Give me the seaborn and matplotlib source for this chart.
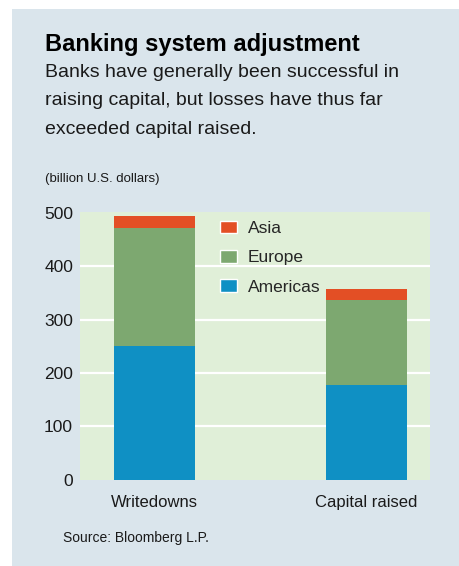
import numpy as np
import pandas as pd
import matplotlib
matplotlib.use("Agg")
import matplotlib.pyplot as plt
from matplotlib.patches import Rectangle, Patch
import seaborn as sns

# data (billion U.S. dollars)
categories = ["Writedowns", "Capital raised"]
americas = [250, 177]
europe = [222, 160]
asia = [22, 20]

sns.set_theme(style="white")
plt.rcParams['font.family'] = ['Liberation Sans', 'DejaVu Sans']

c_asia = "#E34F25"
c_europe = "#7DA870"
c_americas = "#0F90C4"
panel_bg = "#DAE5EC"
plot_bg = "#E0EFD8"

df = pd.DataFrame({"cat": categories, "Americas": americas, "Europe": europe, "Asia": asia})
df["am_eu"] = df["Americas"] + df["Europe"]
df["total"] = df["am_eu"] + df["Asia"]

W, H = 460, 566
fig = plt.figure(figsize=(4.6, 5.66), dpi=100)
fig.patch.set_facecolor("white")
fig.patches.append(Rectangle((12 / W, 0), 447 / W, 557 / H, transform=fig.transFigure,
                             facecolor=panel_bg, edgecolor="none", zorder=-10))

ax = fig.add_axes([80 / W, 1 - 479.5 / H, 350 / W, (479.5 - 212) / H])
ax.set_facecolor(plot_bg)

bw = 0.382
sns.barplot(data=df, x="cat", y="total", color=c_asia, width=bw, ax=ax, saturation=1,
            linewidth=0, zorder=3)
sns.barplot(data=df, x="cat", y="am_eu", color=c_europe, width=bw, ax=ax, saturation=1,
            linewidth=0, zorder=3)
sns.barplot(data=df, x="cat", y="Americas", color=c_americas, width=bw, ax=ax, saturation=1,
            linewidth=0, zorder=3)

ax.set_xlim(-0.351, 1.30)
ax.set_ylim(0, 502)
ax.set_yticks([0, 100, 200, 300, 400, 500])
ax.set_yticklabels(["0", "100", "200", "300", "400", "500"], fontsize=12.5, color="#1a1a1a")
ax.set_xticks([0, 1])
ax.set_xticklabels(categories, fontsize=12, color="#1a1a1a")
ax.tick_params(axis="y", length=0, pad=5)
ax.tick_params(axis="x", length=0, pad=11)
ax.set_xlabel("")
ax.set_ylabel("")
for s in ax.spines.values():
    s.set_visible(False)
for yv in [100, 200, 300, 400]:
    ax.axhline(yv, color="white", lw=1.6, zorder=1)

# legend
handles = [Patch(facecolor=c_asia, label="Asia"),
           Patch(facecolor=c_europe, label="Europe"),
           Patch(facecolor=c_americas, label="Americas")]
leg = ax.legend(handles=handles, loc="upper left", bbox_to_anchor=(0.375, 1.0), frameon=False,
                fontsize=12.5, handlelength=1.0, handleheight=0.75, handletextpad=0.6,
                labelspacing=0.8, borderaxespad=0.1)

fig.text(45 / W, 1 - 45 / H, "Banking system adjustment", fontsize=17, fontweight="bold",
         va="center", ha="left", color="black")
sub = "Banks have generally been successful in\nraising capital, but losses have thus far\nexceeded capital raised."
fig.text(45 / W, 1 - 64 / H, sub, fontsize=14, va="top", ha="left", color="#1a1a1a",
         linespacing=1.87)
fig.text(45 / W, 1 - 179 / H, "(billion U.S. dollars)", fontsize=9.5, va="center", ha="left",
         color="#1a1a1a")
fig.text(63 / W, 1 - 538 / H, "Source: Bloomberg L.P.", fontsize=10, va="center", ha="left",
         color="#1a1a1a")

fig.savefig("out.png", dpi=100)
